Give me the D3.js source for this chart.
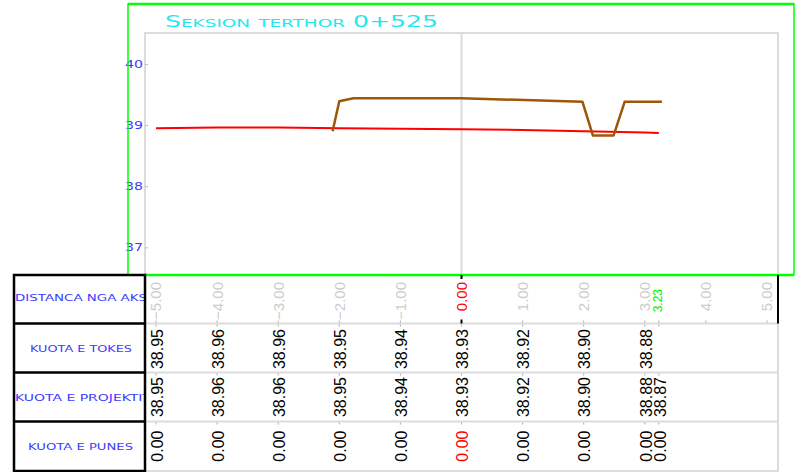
<!DOCTYPE html>
<html>
<head>
<meta charset="utf-8">
<style>
  body { margin: 0; background: #fff; }
  svg { display: block; }
</style>
</head>
<body>
<svg width="795" height="472"></svg>
<script src="https://d3js.org/d3.v7.min.js"></script>
<script>

var title = "Seksion terthor 0+525";
var rowNames = ["DISTANCA NGA AKSI", "KUOTA E TOKES", "KUOTA E PROJEKTIT", "KUOTA E PUNES"];
var axisTicks = [-5, -4, -3, -2, -1, 0, 1, 2, 3, 4, 5];
var yTicks = [37, 38, 39, 40];
var endDist = 3.23;
var distances = [-5, -4, -3, -2, -1, 0, 1, 2, 3, 3.23];
var kuotaProjekt = [38.95, 38.96, 38.96, 38.95, 38.94, 38.93, 38.92, 38.90, 38.88, 38.87];
var kuotaTokes = [38.95, 38.96, 38.96, 38.95, 38.94, 38.93, 38.92, 38.90, 38.88, null];
var kuotaPunes = [0, 0, 0, 0, 0, 0, 0, 0, 0, 0];
var profilX = [-2.11, -2.0, -1.77, 0, 1.98, 2.15, 2.49, 2.67, 3.28];
var profilY = [38.90, 39.39, 39.44, 39.44, 39.38, 38.83, 38.83, 39.38, 39.38];

var svg = d3.select("svg");
var blue = "#3c3cff", gray = "#dcdcdc";

var x = d3.scaleLinear().domain([-5.18, 5.18]).range([145, 778]);
var y = d3.scaleLinear().domain([36.547, 40.507]).range([275, 33]);
var rows = [275, 323.5, 372.5, 421.5, 471];

// plot frame
svg.append("rect")
    .attr("x", 145).attr("y", 33).attr("width", 633).attr("height", 242)
    .attr("fill", "none").attr("stroke", gray).attr("stroke-width", 2);
// right gray border continues down
svg.append("line")
    .attr("x1", 778).attr("x2", 778).attr("y1", 33).attr("y2", 472)
    .attr("stroke", gray).attr("stroke-width", 2);
// axis line at 0
svg.append("line")
    .attr("x1", x(0)).attr("x2", x(0)).attr("y1", 33).attr("y2", 275)
    .attr("stroke", gray).attr("stroke-width", 2);

// y axis
var yAxis = svg.append("g")
    .attr("transform", "translate(148,0)")
    .call(d3.axisLeft(y).tickValues(yTicks).tickSize(3).tickFormat(d3.format("d")));
yAxis.select(".domain").remove();
yAxis.selectAll("line").attr("stroke", "#bbb");
yAxis.selectAll("text")
    .attr("x", -5)
    .attr("fill", blue)
    .attr("font-family", "DejaVu Sans")
    .attr("font-size", 10)
    .attr("textLength", 18)
    .attr("lengthAdjust", "spacingAndGlyphs");

// lines
var line = d3.line().x(function(d) { return x(d[0]); }).y(function(d) { return y(d[1]); });
svg.append("path")
    .datum(distances.map(function(d, i) { return [d, kuotaProjekt[i]]; }))
    .attr("d", line).attr("fill", "none").attr("stroke", "#ff0000").attr("stroke-width", 2);
svg.append("path")
    .datum(profilX.map(function(d, i) { return [d, profilY[i]]; }))
    .attr("d", line).attr("fill", "none").attr("stroke", "#9c5708").attr("stroke-width", 2.5)
    .attr("stroke-linejoin", "round");

// green frame
svg.append("rect")
    .attr("x", 128).attr("y", 4).attr("width", 666).attr("height", 271)
    .attr("fill", "none").attr("stroke", "#00ff00").attr("stroke-width", 1.5);
svg.append("line")
    .attr("x1", 128).attr("x2", 794).attr("y1", 4).attr("y2", 4)
    .attr("stroke", "#00ff00").attr("stroke-width", 2.5);
svg.append("line")
    .attr("x1", 145).attr("x2", 794).attr("y1", 275).attr("y2", 275)
    .attr("stroke", "#00ff00").attr("stroke-width", 2.5);

// title
svg.append("text")
    .attr("x", 165).attr("y", 27)
    .attr("fill", "#1fe8f0")
    .attr("font-family", "DejaVu Sans")
    .attr("font-size", 15)
    .style("font-variant", "small-caps")
    .attr("textLength", 273)
    .attr("lengthAdjust", "spacingAndGlyphs")
    .text(title);

// table grid lines (data part)
svg.selectAll(".rowline")
    .data(rows.slice(1))
    .enter().append("line")
    .attr("x1", 145).attr("x2", 778)
    .attr("y1", function(d) { return d; }).attr("y2", function(d) { return d; })
    .attr("stroke", gray).attr("stroke-width", 2);

// small gray ticks on row lines
rows.slice(1, 4).forEach(function(r) {
    svg.selectAll(null)
        .data(distances)
        .enter().append("line")
        .attr("x1", function(d) { return x(d); }).attr("x2", function(d) { return x(d); })
        .attr("y1", r + 1).attr("y2", r + 3)
        .attr("stroke", "#aaa");
});
// ticks along the distance row
svg.selectAll(null)
    .data(axisTicks.concat([endDist]))
    .enter().append("line")
    .attr("x1", function(d) { return x(d); }).attr("x2", function(d) { return x(d); })
    .attr("y1", rows[1] - 3).attr("y2", rows[1] - 1)
    .attr("stroke", "#aaa");
// black marks at the axis
[rows[0] + 2, rows[1] - 2].forEach(function(yy) {
    svg.append("line")
        .attr("x1", x(0)).attr("x2", x(0)).attr("y1", yy - 2).attr("y2", yy + 2)
        .attr("stroke", "#000").attr("stroke-width", 2);
});

// row 1 right black border
svg.append("line")
    .attr("x1", 778).attr("x2", 778).attr("y1", rows[0]).attr("y2", rows[1])
    .attr("stroke", "#000").attr("stroke-width", 2);

// left label column
svg.append("defs").append("clipPath").attr("id", "lblclip")
    .append("rect").attr("x", 14).attr("y", 270).attr("width", 131).attr("height", 202);
var lbl = svg.append("g").attr("clip-path", "url(#lblclip)");
var lblPos = [
    { x: 15, y: 301, w: 136 },
    { x: 30, y: 352, w: 102 },
    { x: 15, y: 401, w: 136 },
    { x: 28, y: 449.5, w: 105 }
];
lbl.selectAll("text")
    .data(rowNames)
    .enter().append("text")
    .attr("x", function(d, i) { return lblPos[i].x; })
    .attr("y", function(d, i) { return lblPos[i].y; })
    .attr("fill", blue)
    .attr("font-family", "DejaVu Sans")
    .attr("font-size", 8.5)
    .attr("textLength", function(d, i) { return lblPos[i].w; })
    .attr("lengthAdjust", "spacingAndGlyphs")
    .text(function(d) { return d; });

svg.append("rect")
    .attr("x", 14).attr("y", rows[0]).attr("width", 131).attr("height", rows[4] - rows[0])
    .attr("fill", "none").attr("stroke", "#000").attr("stroke-width", 2.5);
svg.selectAll(".lblrow")
    .data(rows.slice(1, 4))
    .enter().append("line")
    .attr("x1", 14).attr("x2", 145)
    .attr("y1", function(d) { return d; }).attr("y2", function(d) { return d; })
    .attr("stroke", "#000").attr("stroke-width", 2.5);

// rotated text helper
function vtext(g, px, top, txt, color, size) {
    g.append("text")
        .attr("transform", "translate(" + px + "," + top + ") rotate(-90)")
        .attr("text-anchor", "end")
        .attr("dy", "0.36em")
        .attr("fill", color)
        .attr("font-family", "Liberation Sans, Arial, sans-serif")
        .attr("font-size", size)
        .text(txt);
}

// distance row
var g1 = svg.append("g");
axisTicks.forEach(function(d) {
    vtext(g1, x(d), 282, d3.format(".2f")(d), d === 0 ? "#ff0000" : "#cccccc", 15);
});
vtext(g1, x(endDist) - 1, 289, d3.format(".2f")(endDist), "#00ee00", 12);

// value rows
var g2 = svg.append("g");
distances.forEach(function(d, i) {
    var px = x(d) + 1;
    if (kuotaTokes[i] !== null) vtext(g2, px, 329, d3.format(".2f")(kuotaTokes[i]), "#000", 16);
    vtext(g2, px, 377, d3.format(".2f")(kuotaProjekt[i]), "#000", 16);
    vtext(g2, px, 430.5, d3.format(".2f")(kuotaPunes[i]), d === 0 ? "#ff0000" : "#000", 16);
});

</script>
</body>
</html>
